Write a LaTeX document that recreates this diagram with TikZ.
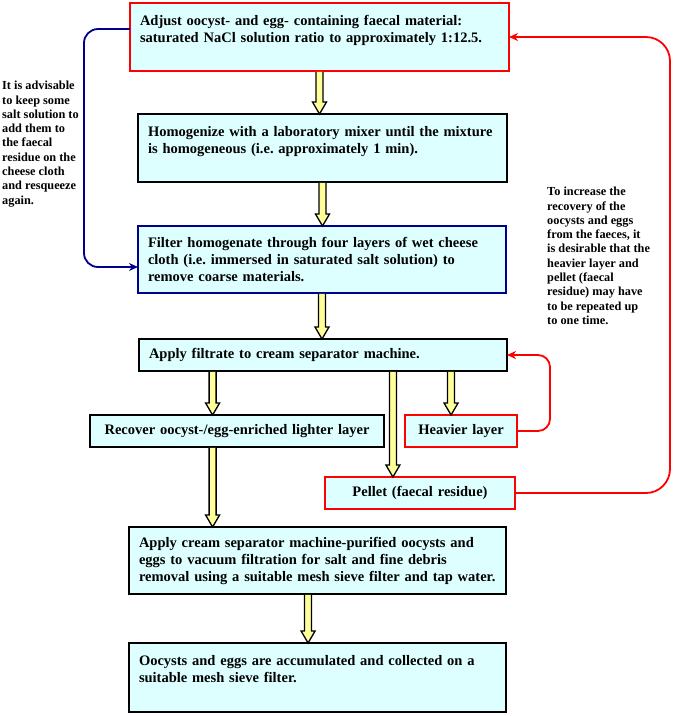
\documentclass[tikz,border=0pt]{standalone}
\usepackage{fontspec}
\setmainfont{Liberation Serif}
\usetikzlibrary{calc,arrows.meta}
\definecolor{boxfill}{RGB}{221,255,255}
\definecolor{yfill}{RGB}{255,255,153}
\definecolor{myred}{RGB}{255,0,0}
\definecolor{myblue}{RGB}{0,0,140}
\frenchspacing
\begin{document}
\begin{tikzpicture}[x=1pt,y=-1pt,
  box/.style={draw=black, fill=boxfill, line width=1.8pt, anchor=north west, outer sep=0pt,
    inner xsep=10pt, inner ysep=0pt, align=left, font=\bfseries\fontsize{14.5}{17}\selectfont},
  redbox/.style={box, draw=myred},
  bluebox/.style={box, draw=myblue},
  note/.style={anchor=north west, inner sep=0pt, align=left, font=\bfseries\fontsize{12.3}{14.3}\selectfont},
  yarr/.style={draw=black, fill=yfill, line width=1.3pt, line join=miter,
    to path={let \p1=(\tikztostart), \p2=(\tikztotarget) in
      (\x1-3.5pt,\y1-0.9pt) -- (\x1-3.5pt,\y2+12pt) -- (\x1-7pt,\y2+12pt) -- (\x1,\y2)
      -- (\x1+7pt,\y2+12pt) -- (\x1+3.5pt,\y2+12pt) -- (\x1+3.5pt,\y1-0.9pt)}},
  redline/.style={draw=myred, line width=1.8pt, -{Stealth[length=9pt,width=8pt]}},
  blueline/.style={draw=myblue, line width=1.8pt, -{Stealth[length=9pt,width=8pt]}}
]
\useasboundingbox (0,0) rectangle (675,716);

\node[redbox, text width=359pt, minimum height=68pt] (b1) at (130,3)
  {Adjust oocyst- and egg- containing faecal material:\\saturated NaCl solution ratio to approximately 1:12.5.\\~};
\node[box, text width=349pt, minimum height=68pt] (b2) at (138,114)
  {Homogenize with a laboratory mixer until the mixture\\is homogeneous (i.e. approximately 1 min).\\~};
\node[bluebox, text width=348pt, minimum height=67pt] (b3) at (138,226)
  {Filter homogenate through four layers of wet cheese\\cloth (i.e. immersed in saturated salt solution) to\\remove coarse materials.};
\node[box, text width=348pt, minimum height=32pt] (b4) at (139,339)
  {Apply filtrate to cream separator machine.};
\node[box, text width=274pt, minimum height=32pt, align=center] (b5) at (90,415)
  {Recover oocyst-/egg-enriched lighter layer};
\node[redbox, text width=92pt, minimum height=32pt, align=center] (b6) at (405,415)
  {Heavier layer};
\node[redbox, text width=170pt, minimum height=32pt, align=center] (b7) at (325,477)
  {Pellet (faecal residue)};
\node[box, text width=357pt, minimum height=67pt] (b8) at (129,527)
  {Apply cream separator machine-purified oocysts and\\eggs to vacuum filtration for salt and fine debris\\removal using a suitable mesh sieve filter and tap water.};
\node[box, text width=357pt, minimum height=69pt] (b9) at (129,643)
  {Oocysts and eggs are accumulated and collected on a\\suitable mesh sieve filter.\\~};

\node[note] (n1) at (2,81)
  {It is advisable\\to keep some\\salt solution to\\add them to\\the faecal\\residue on the\\cheese cloth\\and resqueeze\\again.};
\node[note] (n2) at (547,187)
  {To increase the\\recovery of the\\oocysts and eggs\\from the faeces, it\\is desirable that the\\heavier layer and\\pellet (faecal\\residue) may have\\to be repeated up\\to one time.};

\coordinate (a1) at ($(b4.south west)!0.2!(b4.south east)$);
\coordinate (a2) at ($(b4.south west)!0.69!(b4.south east)$);
\coordinate (a3) at ($(b4.south west)!0.848!(b4.south east)$);
\coordinate (a4) at ($(b8.south west)!0.475!(b8.south east)$);

\draw[yarr] (b1.south) to (b2.north);
\draw[yarr] (b2.south) to (b3.north);
\draw[yarr] (b3.south) to (b4.north);
\draw[yarr] (a1) to (a1 |- b5.north);
\draw[yarr] (a2) to (a2 |- b7.north);
\draw[yarr] (a3) to (a3 |- b6.north);
\draw[yarr] (a1 |- b5.south) to (a1 |- b8.north);
\draw[yarr] (a4) to (a4 |- b9.north);

\draw[blueline, rounded corners=14pt] ([yshift=8pt]b1.west) -- (84,29) -- (84,267) -- ([yshift=-7.5pt]b3.west);
\draw[redline, rounded corners=12pt] (b6.east) -- (550,431) -- (550,355) -- (b4.east);
\draw[redline, rounded corners=24pt] (b7.east) -- (670,493) -- (670,37) -- (b1.east);
\end{tikzpicture}
\end{document}
